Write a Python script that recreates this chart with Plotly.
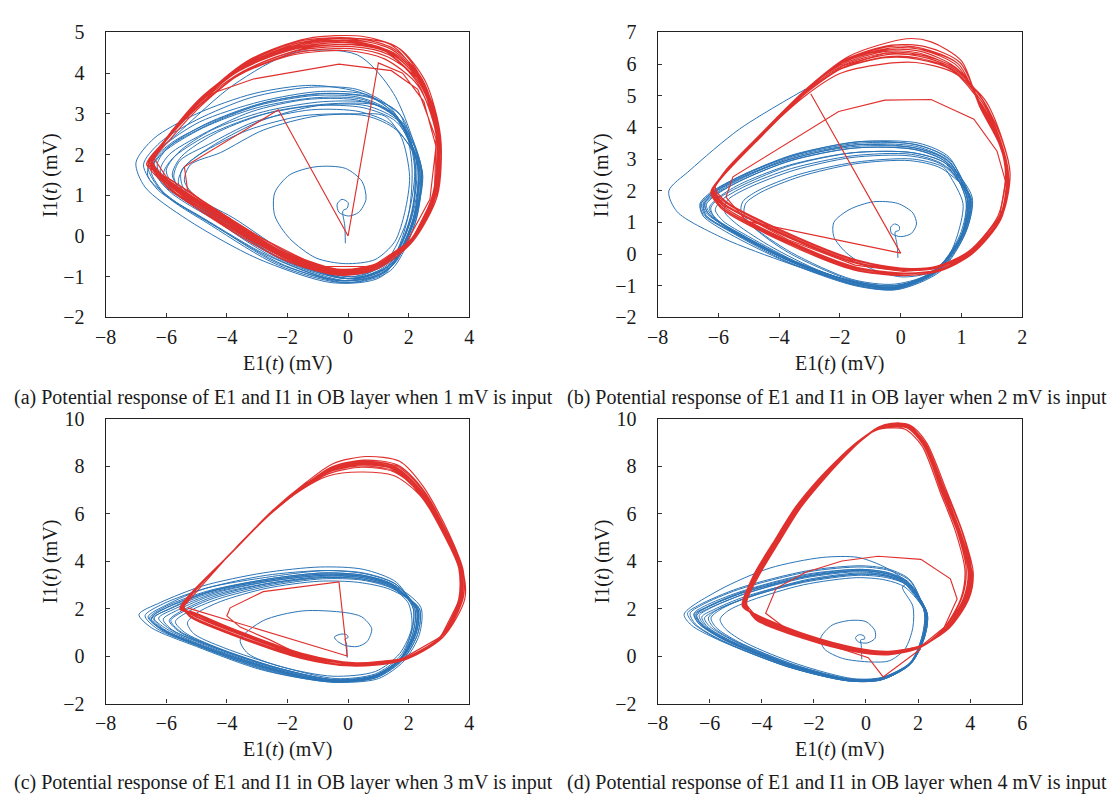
import plotly.graph_objects as go

BLUE = "#2b74b6"
RED = "#e0302d"
FONT = "Liberation Serif"

# ---------------- panel (a): 1 mV ----------------
a_blue_transient = [(-0.09,-0.18),(-0.11,0.26),(-0.17,0.62),(-0.03,0.68),(0.0,0.82),(-0.2,0.9),(-0.36,0.78),(-0.3,0.58),(0.02,0.49),(0.35,0.58),(0.59,0.9),(0.46,1.34),(-0.09,1.66),(-1.06,1.7),(-1.93,1.5),(-2.42,1.06),(-2.42,0.5),(-1.93,-0.06),(-1.06,-0.54),(-0.09,-0.68),(0.89,-0.58),(1.54,-0.14),(1.87,0.58),(2.03,1.46),(1.76,2.42)]
a_blue_loops = [
 (1.2,2.95),(0.2,3.0),(-1.5,2.95),(-3.3,2.6),(-4.9,2.0),(-5.5,1.6),(-5.45,1.2),(-4.6,0.6),(-2.6,-0.35),(-0.3,-0.95),(1.1,-0.75),(1.9,0.3),(2.2,1.6),(1.9,2.6),
 (1.3,3.1),(0.2,3.35),(-1.4,3.35),(-3.2,3.05),(-4.8,2.5),(-5.9,2.0),(-6.2,1.6),(-5.7,1.05),(-4.2,0.35),(-2.2,-0.55),(0.0,-1.05),(1.4,-0.7),(2.15,0.4),(2.3,1.7),
 (1.7,2.85),(0.7,3.45),(-0.9,3.55),(-2.9,3.3),(-4.9,2.8),(-6.1,2.2),(-6.6,1.7),(-6.1,1.05),(-4.5,0.25),(-2.3,-0.72),(-0.1,-1.15),(1.3,-0.85),(2.2,0.3),(2.4,1.65),
 (1.8,2.75),(0.8,3.25),(-0.8,3.3),(-2.8,3.05),(-4.5,2.6),(-5.6,2.05),(-6.0,1.6),(-5.6,1.1),(-4.1,0.45),(-2.0,-0.5),(0.1,-1.0),(1.4,-0.6),(2.1,0.55),(2.25,1.85),
 (1.6,2.95),(0.5,3.5),(-1.2,3.7),(-3.1,3.5),(-5.0,3.0),(-6.4,2.4),(-7.0,1.8),(-6.7,1.2),(-5.3,0.4),(-3.0,-0.55),(-0.5,-1.15),(1.1,-1.0),(2.0,0.1),(2.45,1.5),
 (1.9,2.7),(1.0,3.2),(-0.5,3.25),(-2.5,3.05),(-4.3,2.55),(-5.5,1.95),(-5.8,1.5),(-5.4,1.0),(-4.0,0.4),(-1.9,-0.6),(0.2,-1.05),(1.5,-0.7),(2.2,0.5),(2.3,1.8),
 (1.5,3.0),(0.4,3.4),(-1.1,3.45),(-3.0,3.2),(-4.7,2.7),(-6.0,2.15),(-6.45,1.7),(-5.9,1.1),(-4.3,0.35),(-2.1,-0.62),(0.0,-1.1),(1.35,-0.8),(2.15,0.35),(2.35,1.7),
 (1.5,3.5),(0.3,4.45),(-1.8,4.5),(-3.8,3.7),(-5.5,2.6),(-6.5,1.9),(-6.6,1.45),(-5.8,0.9),(-4.3,0.2),(-2.1,-0.72),(0.0,-1.15),(1.4,-0.85),(2.25,0.4),(2.4,1.75),
 (1.7,2.8),(0.6,3.2),(-1.0,3.2),(-2.8,2.85),(-4.4,2.25),(-5.4,1.7),(-5.6,1.3),(-5.0,0.8),(-3.6,0.2),(-1.6,-0.7),(0.3,-1.0),(1.5,-0.5),(2.1,0.6),(2.2,1.9),
 (1.6,2.9),(0.5,3.35),(-1.0,3.4),(-3.0,3.15),(-4.8,2.65),(-6.1,2.05),(-6.5,1.6),(-6.0,1.0),(-4.5,0.3),(-2.3,-0.68),(-0.1,-1.1),(1.3,-0.75),(2.1,0.45),(2.3,1.75),
 (1.4,3.15),(0.3,3.6),(-1.3,3.65),(-3.2,3.4),(-5.0,2.85),(-6.2,2.3),(-6.75,1.75),(-6.3,1.15),(-4.8,0.45),(-2.6,-0.5),(-0.3,-1.1),(1.2,-0.9),(2.1,0.2),(2.45,1.6),
 (1.6,2.6),(0.6,2.95),(-1.0,2.95),(-2.8,2.6),(-4.2,2.05),(-5.2,1.75),(-5.4,1.35),(-5.0,0.95),(-3.8,0.45),(-1.8,-0.5),(0.2,-0.95),(1.45,-0.55),(2.0,0.55),(2.1,1.8),
 (1.7,3.0),(0.7,3.4),(-0.9,3.5),(-2.9,3.25),(-4.7,2.75),(-5.9,2.2),(-6.3,1.75),(-5.95,1.2),(-4.4,0.5),(-2.2,-0.5),(0.0,-1.05),(1.35,-0.75),(2.2,0.4),(2.35,1.7),
 (1.5,2.7),(0.4,3.05),(-1.2,3.1),(-3.1,2.8),(-4.6,2.25),(-5.55,1.85),(-5.75,1.45),(-5.4,1.0),(-4.1,0.5),(-2.0,-0.55),(0.1,-1.05),(1.4,-0.65),(2.1,0.5),(2.2,1.8),
 (1.8,2.9),(0.8,3.4),(-0.7,3.5),(-2.6,3.3),(-4.5,2.8),(-5.8,2.3),(-6.4,1.85),(-6.15,1.3),(-4.7,0.55),(-2.4,-0.55),(-0.2,-1.1),(1.25,-0.85),(2.15,0.3),(2.4,1.65),
 (1.6,2.8),(0.5,3.15),(-1.1,3.2),(-3.0,2.95),(-4.7,2.45),(-5.8,1.9),(-6.1,1.5),(-5.7,1.05),(-4.3,0.4),(-2.1,-0.6),(0.0,-1.05),(1.4,-0.7),(2.15,0.45),(2.3,1.75),(1.6,2.9)]
a_red_transient = [(-3.2,0.05),(-4.3,0.55),(-5.3,1.14),(-5.4,1.7),(-2.3,3.1),(0.0,0.0),(1.0,4.25),(1.8,4.0),(2.5,3.3),(2.9,2.2),(2.7,0.9),(1.9,-0.2),(0.8,-0.75),(-1.0,-0.75),(-3.0,0.0),(-4.6,0.75),(-6.0,1.45),(-6.4,1.9),(-5.8,2.6),(-4.5,3.5),(-3.1,3.86),(-0.3,4.22),(1.43,4.06),(2.3,3.6),(2.9,2.4),(2.85,1.0),(2.1,-0.1),(1.0,-0.7),(-0.2,-0.88),(-2.0,-0.5),(-4.2,0.45),(-5.9,1.3)]
a_red_loops = [
 (-6.5,1.8),(-6.0,2.35),(-4.8,3.35),(-3.4,4.15),(-1.6,4.65),(0.2,4.75),(1.4,4.5),(2.35,3.8),(2.9,2.5),(2.8,1.05),(2.1,-0.05),(1.0,-0.66),(-0.2,-0.82),(-2.0,-0.45),(-4.2,0.5),(-5.9,1.35),
 (-6.5,1.85),(-5.9,2.45),(-4.7,3.45),(-3.3,4.3),(-1.5,4.8),(0.3,4.85),(1.5,4.6),(2.45,3.85),(3.0,2.5),(2.9,1.0),(2.15,-0.1),(1.05,-0.78),(-0.25,-0.95),(-2.05,-0.6),(-4.25,0.32),(-5.95,1.22),
 (-6.6,1.75),(-6.05,2.3),(-4.9,3.2),(-3.5,4.0),(-1.7,4.5),(0.1,4.6),(1.3,4.4),(2.5,3.7),(3.05,2.45),(2.95,1.1),(2.2,0.0),(1.05,-0.7),(-0.15,-0.9),(-2.0,-0.55),(-4.2,0.38),(-5.95,1.22),
 (-6.45,1.85),(-5.95,2.45),(-4.75,3.45),(-3.3,4.25),(-1.4,4.75),(0.4,4.85),(1.6,4.65),(2.4,3.9),(2.95,2.55),(2.8,0.95),(2.05,-0.15),(0.95,-0.72),(-0.2,-0.84),(-1.95,-0.42),(-4.15,0.55),(-5.85,1.38),
 (-6.65,1.75),(-6.1,2.3),(-4.95,3.25),(-3.6,4.05),(-1.8,4.6),(0.0,4.75),(1.2,4.55),(2.35,3.75),(3.0,2.4),(2.9,1.05),(2.15,-0.05),(1.05,-0.74),(-0.2,-0.93),(-2.05,-0.55),(-4.25,0.35),(-6.0,1.22),
 (-6.45,1.8),(-5.9,2.35),(-4.7,3.3),(-3.3,4.1),(-1.5,4.6),(0.3,4.7),(1.5,4.5),(2.45,3.75),(2.95,2.5),(2.85,1.0),(2.1,-0.08),(1.0,-0.7),(-0.2,-0.86),(-2.0,-0.48),(-4.2,0.48),(-5.9,1.32),
 (-6.55,1.8),(-6.0,2.4),(-4.85,3.4),(-3.4,4.2),(-1.6,4.75),(0.2,4.85),(1.4,4.7),(2.4,3.85),(3.0,2.55),(2.9,1.0),(2.1,-0.1),(1.0,-0.76),(-0.2,-0.94),(-2.0,-0.58),(-4.2,0.36),(-5.9,1.24),
 (-6.5,1.8),(-6.0,2.35),(-4.85,3.3),(-3.45,4.05),(-1.65,4.55),(0.15,4.65),(1.35,4.45),(2.3,3.75),(2.9,2.5),(2.85,1.05),(2.1,-0.05),(1.0,-0.68),(-0.2,-0.84),(-2.0,-0.46),(-4.2,0.52),(-5.9,1.34),
 (-6.55,1.82),(-5.95,2.42),(-4.75,3.42),(-3.35,4.22),(-1.55,4.72),(0.25,4.8),(1.45,4.58),(2.42,3.82),(2.97,2.48),(2.87,1.02),(2.12,-0.08),(1.02,-0.72),(-0.22,-0.9),(-2.02,-0.52),(-4.22,0.43),(-5.92,1.3),
 (-6.5,1.8),(-6.0,2.38),(-4.8,3.38),(-3.4,4.18),(-1.6,4.68),(0.2,4.78),(1.4,4.52),(2.38,3.78),(2.93,2.52),(2.83,1.0),(2.08,-0.1),(0.98,-0.68),(-0.2,-0.83),(-2.0,-0.44),(-4.2,0.54),(-5.9,1.36),
 (-6.6,1.78),(-6.1,2.3),(-5.0,3.15),(-3.6,3.95),(-1.8,4.45),(0.0,4.55),(1.2,4.35),(2.3,3.7),(2.95,2.45),(2.9,1.05),(2.2,-0.02),(1.05,-0.7),(-0.18,-0.88),(-1.98,-0.5),(-4.18,0.46),(-5.88,1.32),
 (-6.45,1.85),(-5.85,2.5),(-4.65,3.5),(-3.2,4.35),(-1.35,4.85),(0.5,4.9),(1.7,4.6),(2.55,3.8),(3.05,2.45),(2.95,1.0),(2.15,-0.12),(1.0,-0.8),(-0.22,-0.97),(-2.02,-0.62),(-4.22,0.3),(-5.92,1.2),
 (-6.55,1.8),(-6.05,2.35),(-4.9,3.3),(-3.5,4.1),(-1.7,4.6),(0.1,4.7),(1.35,4.5),(2.4,3.8),(2.98,2.5),(2.88,1.02),(2.12,-0.07),(1.02,-0.7),(-0.2,-0.88),(-2.0,-0.5),(-4.2,0.44),(-5.9,1.3),
 (-6.5,1.82),(-5.95,2.4),(-4.8,3.4),(-3.35,4.25),(-1.5,4.8),(0.3,4.82),(1.5,4.55),(2.5,3.75),(3.0,2.4),(2.88,0.98),(2.1,-0.12),(0.98,-0.75),(-0.2,-0.92),(-2.0,-0.56),(-4.2,0.38),(-5.9,1.26),(-6.5,1.82)]

# ---------------- panel (b): 2 mV ----------------
b_blue_transient = [(-0.09,-0.12),(-0.12,0.3),(-0.18,0.7),(-0.05,0.75),(-0.05,0.88),(-0.2,0.95),(-0.33,0.85),(-0.3,0.65),(0.0,0.55),(0.35,0.65),(0.52,0.95),(0.4,1.3),(-0.1,1.6),(-0.9,1.65),(-1.7,1.4),(-2.2,1.0),(-2.2,0.55),(-1.8,0.05),(-1.0,-0.45),(0.0,-0.72),(0.9,-0.6),(1.55,-0.1),(1.9,0.7),(2.05,1.6),(1.6,2.5)]
b_blue_loops = [
 (1.4,2.75),(0.4,3.0),(-1.5,2.9),(-3.4,2.5),(-4.7,2.0),(-5.2,1.65),(-5.25,1.3),(-4.9,0.9),(-3.6,0.05),(-1.6,-0.8),(-0.2,-0.95),(1.1,-0.55),(1.95,0.6),(2.15,1.7),
 (1.5,2.9),(0.5,3.3),(-1.5,3.35),(-3.6,2.95),(-5.2,2.35),(-6.1,1.85),(-6.4,1.55),(-6.2,1.2),(-5.4,0.65),(-3.6,-0.25),(-1.5,-0.95),(-0.1,-1.05),(1.2,-0.5),(2.05,0.7),(2.25,1.75),
 (1.6,3.0),(0.5,3.45),(-1.4,3.55),(-3.6,3.1),(-5.3,2.45),(-6.2,1.95),(-6.55,1.6),(-6.45,1.25),(-5.55,0.7),(-3.7,-0.2),(-1.5,-0.9),(-0.2,-1.1),(1.25,-0.5),(2.1,0.75),(2.3,1.75),
 (1.5,2.85),(0.4,3.2),(-1.6,3.2),(-3.7,2.8),(-5.3,2.2),(-6.05,1.75),(-6.3,1.45),(-6.05,1.1),(-5.2,0.6),(-3.5,-0.25),(-1.4,-0.9),(-0.1,-1.0),(1.2,-0.45),(2.05,0.7),(2.2,1.7),
 (1.55,2.95),(0.5,3.35),(-1.45,3.45),(-3.6,3.05),(-5.25,2.4),(-6.2,1.9),(-6.5,1.6),(-6.4,1.3),(-5.5,0.72),(-3.65,-0.18),(-1.5,-0.9),(-0.2,-1.05),(1.22,-0.47),(2.08,0.73),(2.25,1.74),
 (1.4,2.8),(0.3,3.1),(-1.6,3.05),(-3.5,2.65),(-5.0,2.1),(-5.7,1.7),(-5.8,1.35),(-5.4,0.95),(-4.2,0.2),(-2.2,-0.7),(-0.3,-1.0),(1.1,-0.6),(2.0,0.6),(2.2,1.7),
 (1.6,3.05),(0.6,3.5),(-1.3,3.55),(-3.5,3.15),(-5.2,2.5),(-6.25,1.95),(-6.6,1.6),(-6.5,1.25),(-5.6,0.7),(-3.7,-0.25),(-1.4,-1.0),(-0.1,-1.12),(1.3,-0.55),(2.15,0.7),(2.35,1.8),
 (1.5,2.9),(0.45,3.3),(-1.5,3.35),(-3.65,2.95),(-5.3,2.3),(-6.15,1.85),(-6.45,1.55),(-6.3,1.25),(-5.45,0.7),(-3.6,-0.2),(-1.45,-0.92),(-0.15,-1.05),(1.25,-0.5),(2.1,0.7),(2.3,1.75),
 (1.55,2.95),(0.5,3.4),(-1.45,3.45),(-3.6,3.0),(-5.3,2.4),(-6.2,1.9),(-6.45,1.6),(-6.35,1.3),(-5.6,0.75),(-3.8,-0.15),(-1.6,-0.95),(-0.2,-1.1),(1.2,-0.55),(2.1,0.65),(2.3,1.7),
 (1.45,2.8),(0.35,3.15),(-1.6,3.1),(-3.6,2.7),(-5.1,2.15),(-5.9,1.7),(-6.1,1.4),(-5.85,1.05),(-5.0,0.55),(-3.3,-0.3),(-1.3,-0.95),(-0.1,-1.02),(1.2,-0.48),(2.05,0.7),(2.2,1.72),
 (1.55,3.0),(0.55,3.45),(-1.4,3.5),(-3.55,3.1),(-5.25,2.45),(-6.25,1.9),(-6.6,1.55),(-6.5,1.2),(-5.65,0.65),(-3.75,-0.25),(-1.5,-1.0),(-0.15,-1.12),(1.28,-0.52),(2.15,0.72),(2.32,1.78),
 (1.35,2.7),(0.3,2.95),(-1.5,2.85),(-3.3,2.45),(-4.6,1.95),(-5.1,1.6),(-5.15,1.25),(-4.85,0.85),(-3.7,0.05),(-1.7,-0.8),(-0.25,-1.0),(1.15,-0.55),(2.0,0.62),(2.15,1.7),
 (1.5,2.95),(0.45,3.35),(-1.5,3.4),(-3.65,3.0),(-5.3,2.35),(-6.2,1.85),(-6.5,1.55),(-6.4,1.22),(-5.5,0.68),(-3.65,-0.22),(-1.45,-0.95),(-0.15,-1.08),(1.25,-0.5),(2.1,0.72),(2.28,1.75),
 (1.5,2.85),(0.4,3.2),(-1.55,3.2),(-3.6,2.8),(-5.15,2.2),(-6.0,1.75),(-6.25,1.45),(-6.1,1.12),(-5.25,0.62),(-3.5,-0.22),(-1.4,-0.92),(-0.1,-1.05),(1.2,-0.48),(2.05,0.7),(2.22,1.72),(1.5,2.85)]
b_blue_outer = [(-1.5,-0.98),(-3.67,-0.3),(-5.84,0.5),(-7.36,1.34),(-7.63,1.99),(-6.93,2.65),(-5.3,3.95),(-3.13,5.21)]
b_red_transient = [(-2.96,5.06),(0.0,0.03),(-5.08,1.04),(-5.75,1.8),(-5.52,2.44),(-2.04,4.5),(-0.52,4.86),(1.0,4.88),(2.41,4.26),(3.17,3.25),(3.45,2.3),(3.25,1.15),(2.3,0.05),(1.2,-0.45),(0.1,-0.55),(-1.5,-0.35),(-3.7,0.45),(-5.85,1.55),(-6.2,2.0),(-5.85,2.5),(-4.7,3.65),(-3.1,5.15),(-1.9,5.95),(-0.5,6.35),(0.6,6.3)]
b_red_loops = [
 (1.8,5.9),(0.6,6.35),(-0.5,6.4),(-1.9,6.0),(-3.1,5.2),(-4.7,3.7),(-5.85,2.5),(-6.2,2.0),(-5.85,1.6),(-3.7,0.55),(-1.5,-0.28),(0.1,-0.5),(1.2,-0.42),(2.3,0.05),(3.25,1.15),(3.5,2.45),(3.3,3.5),(2.65,4.75),
 (1.7,5.8),(0.6,6.15),(-0.5,6.2),(-1.95,5.85),(-3.15,5.05),(-4.75,3.6),(-5.9,2.45),(-6.25,1.95),(-5.85,1.45),(-3.7,0.35),(-1.5,-0.48),(0.1,-0.66),(1.25,-0.55),(2.35,0.0),(3.3,1.1),(3.55,2.4),(3.3,3.45),(2.6,4.7),
 (1.9,6.0),(0.7,6.5),(-0.4,6.55),(-1.85,6.1),(-3.05,5.25),(-4.65,3.75),(-5.8,2.55),(-6.15,2.05),(-5.8,1.65),(-3.65,0.6),(-1.45,-0.22),(0.1,-0.46),(1.2,-0.38),(2.25,0.1),(3.2,1.2),(3.45,2.5),(3.25,3.55),(2.7,4.85),
 (1.75,5.85),(0.6,6.25),(-0.45,6.3),(-1.9,5.9),(-3.1,5.1),(-4.7,3.6),(-5.85,2.45),(-6.2,1.98),(-5.82,1.5),(-3.68,0.42),(-1.5,-0.4),(0.1,-0.6),(1.22,-0.5),(2.3,0.02),(3.28,1.12),(3.52,2.42),(3.28,3.48),(2.62,4.72),
 (1.95,6.05),(0.8,6.55),(-0.3,6.6),(-1.8,6.15),(-3.0,5.3),(-4.6,3.8),(-5.8,2.6),(-6.1,2.1),(-5.75,1.66),(-3.6,0.62),(-1.4,-0.2),(0.15,-0.45),(1.25,-0.38),(2.35,0.1),(3.35,1.25),(3.6,2.55),(3.35,3.6),(2.75,4.9),
 (1.7,5.75),(0.5,6.05),(-0.6,6.0),(-2.0,5.7),(-3.2,4.95),(-4.8,3.55),(-5.95,2.4),(-6.25,1.95),(-5.9,1.44),(-3.72,0.32),(-1.55,-0.5),(0.05,-0.68),(1.2,-0.55),(2.3,0.0),(3.25,1.1),(3.5,2.4),(3.25,3.45),(2.6,4.65),
 (2.0,6.1),(1.0,6.7),(0.2,6.8),(-1.7,6.25),(-2.95,5.35),(-4.6,3.8),(-5.8,2.55),(-6.2,2.0),(-5.8,1.56),(-3.65,0.5),(-1.45,-0.3),(0.1,-0.52),(1.2,-0.44),(2.3,0.05),(3.3,1.2),(3.55,2.5),(3.3,3.55),(2.7,4.85),
 (1.8,5.9),(0.65,6.4),(-0.45,6.45),(-1.9,6.05),(-3.1,5.2),(-4.7,3.7),(-5.85,2.5),(-6.2,2.0),(-5.9,1.5),(-3.7,0.4),(-1.5,-0.42),(0.1,-0.6),(1.2,-0.5),(2.3,0.04),(3.26,1.15),(3.5,2.44),(3.28,3.5),(2.64,4.74),
 (1.85,5.95),(0.7,6.45),(-0.4,6.5),(-1.85,6.08),(-3.05,5.22),(-4.66,3.72),(-5.82,2.52),(-6.18,2.02),(-5.82,1.6),(-3.66,0.56),(-1.46,-0.26),(0.1,-0.48),(1.22,-0.4),(2.3,0.06),(3.28,1.18),(3.53,2.47),(3.3,3.52),(2.68,4.8),
 (1.72,5.82),(0.55,6.2),(-0.55,6.22),(-1.95,5.85),(-3.15,5.05),(-4.75,3.62),(-5.9,2.45),(-6.22,1.97),(-5.86,1.47),(-3.7,0.38),(-1.52,-0.44),(0.08,-0.62),(1.2,-0.52),(2.3,0.02),(3.25,1.12),(3.48,2.42),(3.25,3.47),(2.6,4.7),
 (1.9,6.0),(0.75,6.45),(-0.35,6.5),(-1.85,6.1),(-3.05,5.25),(-4.65,3.75),(-5.8,2.55),(-6.15,2.05),(-5.8,1.58),(-3.65,0.52),(-1.45,-0.3),(0.12,-0.5),(1.22,-0.42),(2.28,0.08),(3.25,1.2),(3.6,2.5),(3.35,3.55),(2.72,4.85),
 (1.78,5.88),(0.62,6.3),(-0.48,6.35),(-1.92,5.95),(-3.1,5.15),(-4.72,3.65),(-5.86,2.48),(-6.2,2.0),(-5.85,1.55)]

# ---------------- panel (c): 3 mV ----------------
c_blue_transient = [(-0.03,-0.07),(-0.05,0.5),(-0.1,0.72),(0.0,0.78),(-0.05,0.9),(-0.25,0.92),(-0.45,0.8),(-0.35,0.62),(-0.1,0.45),(0.3,0.4),(0.62,0.6),(0.78,1.15),(0.45,1.65),(-0.09,1.83),(-1.5,1.9),(-2.8,1.49),(-3.56,0.68),(-3.3,0.1),(-2.2,-0.45),(-0.5,-0.85),(0.9,-0.65),(1.7,0.1),(2.1,1.2),(2.0,2.2),(1.5,2.9)]
c_blue_loops = [
 (1.5,2.95),(0.5,3.35),(-0.8,3.45),(-2.6,3.2),(-4.6,2.7),(-5.8,2.05),(-6.4,1.6),(-6.0,1.15),(-4.8,0.45),(-2.6,-0.5),(-0.5,-1.05),(0.9,-0.85),(1.75,-0.1),(2.2,1.0),(2.25,2.0),
 (1.4,2.9),(0.4,3.25),(-0.9,3.3),(-2.7,3.05),(-4.5,2.55),(-5.6,1.95),(-6.1,1.55),(-5.8,1.1),(-4.6,0.45),(-2.5,-0.45),(-0.45,-1.0),(0.95,-0.8),(1.8,-0.05),(2.15,1.0),(2.2,2.0),
 (1.6,3.0),(0.6,3.45),(-0.7,3.6),(-2.5,3.35),(-4.7,2.85),(-6.0,2.15),(-6.6,1.65),(-6.2,1.15),(-4.9,0.4),(-2.7,-0.6),(-0.5,-1.1),(0.95,-0.9),(1.8,-0.15),(2.3,0.95),(2.35,2.0),
 (1.45,2.85),(0.45,3.2),(-0.85,3.25),(-2.6,2.95),(-4.3,2.4),(-5.3,1.85),(-5.7,1.45),(-5.4,1.0),(-4.3,0.35),(-2.3,-0.5),(-0.4,-1.0),(0.9,-0.8),(1.75,-0.05),(2.1,1.05),(2.15,2.0),
 (1.6,3.1),(0.5,3.65),(-0.9,3.75),(-2.8,3.5),(-4.8,2.95),(-6.2,2.25),(-6.9,1.75),(-6.5,1.2),(-5.0,0.4),(-2.8,-0.6),(-0.5,-1.1),(1.0,-0.95),(1.85,-0.2),(2.35,0.9),(2.4,2.05),
 (1.5,3.0),(0.5,3.4),(-0.8,3.5),(-2.6,3.25),(-4.5,2.75),(-5.9,2.1),(-6.45,1.65),(-6.1,1.15),(-4.85,0.45),(-2.65,-0.5),(-0.5,-1.05),(0.9,-0.85),(1.75,-0.1),(2.2,1.0),(2.25,2.0),
 (1.55,2.95),(0.55,3.35),(-0.75,3.4),(-2.55,3.15),(-4.4,2.65),(-5.7,2.0),(-6.25,1.6),(-5.9,1.15),(-4.7,0.45),(-2.55,-0.5),(-0.5,-1.05),(0.9,-0.85),(1.75,-0.1),(2.25,1.0),(2.3,2.0),
 (1.5,2.9),(0.5,3.3),(-0.8,3.4),(-2.6,3.15),(-4.55,2.65),(-5.85,2.0),(-6.5,1.55),(-6.1,1.1),(-4.85,0.4),(-2.6,-0.55),(-0.5,-1.08),(0.92,-0.88),(1.78,-0.12),(2.25,0.98),(2.3,2.0),
 (1.45,2.95),(0.45,3.3),(-0.85,3.35),(-2.65,3.05),(-4.45,2.5),(-5.5,1.9),(-5.9,1.5),(-5.6,1.05),(-4.5,0.4),(-2.45,-0.5),(-0.45,-1.02),(0.9,-0.82),(1.75,-0.08),(2.2,1.0),(2.25,2.0),
 (1.55,3.05),(0.5,3.5),(-0.8,3.6),(-2.7,3.4),(-4.7,2.85),(-6.1,2.2),(-6.7,1.7),(-6.3,1.15),(-5.0,0.45),(-2.75,-0.55),(-0.5,-1.08),(0.95,-0.9),(1.82,-0.15),(2.3,0.95),(2.35,2.0),
 (1.4,2.8),(0.35,3.1),(-0.95,3.15),(-2.7,2.85),(-4.2,2.3),(-5.0,1.8),(-5.3,1.4),(-5.1,0.95),(-4.1,0.35),(-2.2,-0.45),(-0.4,-0.95),(0.9,-0.75),(1.72,0.0),(2.1,1.05),(2.15,2.0),
 (1.5,3.0),(0.5,3.4),(-0.8,3.5),(-2.6,3.25),(-4.6,2.75),(-6.0,2.1),(-6.55,1.6),(-6.15,1.1),(-4.9,0.42),(-2.65,-0.55),(-0.5,-1.08),(0.92,-0.88),(1.78,-0.12),(2.25,0.98),(2.3,2.0),
 (1.45,2.9),(0.45,3.25),(-0.85,3.3),(-2.65,3.0),(-4.4,2.45),(-5.4,1.9),(-5.85,1.5),(-5.55,1.05),(-4.45,0.4),(-2.4,-0.48),(-0.45,-1.0),(0.9,-0.8),(1.75,-0.05),(2.15,1.02),(2.2,2.0),
 (1.5,2.95),(0.5,3.35),(-0.8,3.45),(-2.6,3.2),(-4.55,2.7),(-5.95,2.05),(-6.5,1.6),(-6.1,1.12),(-4.85,0.44),(-2.6,-0.52),(-0.5,-1.06),(0.9,-0.86),(1.76,-0.1),(2.22,0.99),(2.27,2.0),(1.5,2.95)]
c_red_transient = [(-5.3,2.03),(-0.03,0.0),(-0.3,3.12),(-2.8,2.71),(-3.89,2.03),(-4.0,1.69),(-3.56,1.22),(-2.58,0.68),(-1.5,0.0),(0.13,-0.34),(1.76,-0.14),(3.06,0.81),(3.71,2.44),(3.71,3.66),(3.28,5.02),(2.41,6.92),(1.54,7.93),(0.46,8.14),(-0.6,7.85),(-1.5,7.1),(-2.6,5.95),(-3.67,4.61)]
c_red_loops = [
 (-5.45,2.05),(-3.6,4.7),(-2.55,6.02),(-1.47,7.12),(-0.6,7.82),(0.45,8.1),(1.55,7.9),(2.4,6.9),(3.25,5.0),(3.7,3.65),(3.7,2.45),(3.05,0.8),(1.75,-0.15),(0.15,-0.35),(-1.5,0.05),(-3.65,1.02),(-5.15,1.82),
 (-5.55,1.98),(-3.75,4.48),(-2.68,5.85),(-1.58,7.0),(-0.68,7.72),(0.4,8.0),(1.5,7.8),(2.35,6.85),(3.2,5.0),(3.65,3.7),(3.65,2.4),(3.0,0.75),(1.7,-0.22),(0.1,-0.42),(-1.55,-0.1),(-3.75,0.85),(-5.25,1.68),
 (-5.4,2.1),(-3.55,4.72),(-2.5,6.08),(-1.42,7.22),(-0.55,7.95),(0.5,8.2),(1.6,8.0),(2.45,7.0),(3.3,5.05),(3.75,3.6),(3.75,2.5),(3.1,0.85),(1.8,-0.1),(0.15,-0.28),(-1.42,0.08),(-3.6,1.05),(-5.12,1.85),
 (-5.5,2.0),(-3.72,4.52),(-2.65,5.9),(-1.56,6.98),(-0.66,7.58),(0.4,7.75),(1.5,7.6),(2.35,6.8),(3.25,4.95),(3.7,3.7),(3.72,2.4),(3.05,0.78),(1.75,-0.17),(0.12,-0.38),(-1.55,-0.06),(-3.72,0.88),(-5.22,1.7),
 (-5.43,2.08),(-3.6,4.68),(-2.52,6.1),(-1.4,7.3),(-0.5,8.1),(0.6,8.4),(1.7,8.2),(2.5,7.1),(3.35,5.1),(3.8,3.6),(3.8,2.5),(3.1,0.85),(1.8,-0.12),(0.15,-0.3),(-1.45,0.04),(-3.62,1.0),(-5.15,1.8),
 (-5.52,1.98),(-3.7,4.55),(-2.62,5.93),(-1.52,7.06),(-0.62,7.82),(0.46,8.14),(1.54,7.93),(2.41,6.92),(3.28,5.02),(3.71,3.66),(3.71,2.44),(3.06,0.81),(1.76,-0.18),(0.13,-0.4),(-1.52,-0.04),(-3.7,0.9),(-5.22,1.72),
 (-5.44,2.06),(-3.62,4.66),(-2.56,6.02),(-1.46,7.15),(-0.58,7.86),(0.5,8.05),(1.58,7.85),(2.45,6.85),(3.3,4.98),(3.78,3.62),(3.85,2.4),(3.12,0.78),(1.78,-0.2),(0.14,-0.4),(-1.5,-0.03),(-3.66,0.96),(-5.18,1.78),
 (-5.48,2.01),(-3.69,4.57),(-2.63,5.92),(-1.54,7.02),(-0.64,7.68),(0.45,7.95),(1.52,7.75),(2.38,6.88),(3.26,5.0),(3.68,3.68),(3.68,2.46),(3.04,0.82),(1.75,-0.13),(0.13,-0.33),(-1.48,0.03),(-3.64,0.98),(-5.17,1.79),
 (-5.42,2.09),(-3.58,4.7),(-2.52,6.06),(-1.43,7.2),(-0.55,7.96),(0.52,8.25),(1.62,8.05),(2.47,7.02),(3.32,5.06),(3.78,3.62),(3.8,2.45),(3.12,0.8),(1.78,-0.16),(0.14,-0.36),(-1.46,0.06),(-3.62,1.03),(-5.14,1.83),
 (-5.53,1.99),(-3.73,4.5),(-2.66,5.88),(-1.57,7.0),(-0.66,7.76),(0.43,8.05),(1.52,7.85),(2.38,6.86),(3.24,4.98),(3.68,3.67),(3.7,2.42),(3.03,0.78),(1.74,-0.2),(0.12,-0.4),(-1.54,-0.08),(-3.73,0.87),(-5.24,1.7),
 (-5.45,2.04),(-3.65,4.61),(-2.58,5.98),(-1.5,7.1),(-0.6,7.88),(0.48,8.18),(1.56,7.97),(2.43,6.95),(3.3,5.04),(3.74,3.64),(3.76,2.47),(3.08,0.82),(1.77,-0.13),(0.14,-0.34),(-1.5,0.0),(-3.67,0.95),(-5.19,1.76),(-5.45,2.04)]

# ---------------- panel (d): 4 mV ----------------
d_blue_transient = [(-0.16,-0.14),(-0.18,0.45),(-0.2,0.68),(-0.05,0.72),(-0.08,0.85),(-0.25,0.9),(-0.4,0.78),(-0.3,0.6),(0.05,0.55),(0.35,0.75),(0.34,1.08),(0.0,1.45),(-0.6,1.5),(-1.3,1.3),(-1.74,0.75),(-1.6,0.3),(-0.9,-0.1),(0.2,-0.25),(0.9,-0.2),(1.5,0.3),(1.8,1.2),(1.8,2.1),(1.4,2.9)]
d_blue_loops = [
 (1.6,3.1),(0.85,3.45),(-0.2,3.6),(-2.3,3.35),(-4.8,2.65),(-6.1,2.05),(-6.5,1.75),(-6.3,1.35),(-5.4,0.7),(-2.9,-0.4),(-0.6,-1.0),(0.6,-0.95),(1.7,-0.3),(2.2,0.8),(2.3,1.8),
 (1.55,3.0),(0.8,3.3),(-0.3,3.4),(-2.4,3.1),(-4.6,2.45),(-5.8,1.9),(-6.2,1.6),(-6.0,1.25),(-5.1,0.65),(-2.8,-0.4),(-0.6,-0.98),(0.6,-0.92),(1.7,-0.28),(2.15,0.8),(2.25,1.8),
 (1.7,3.15),(0.9,3.6),(-0.15,3.75),(-2.2,3.55),(-4.9,2.8),(-6.3,2.15),(-6.75,1.8),(-6.55,1.35),(-5.6,0.7),(-3.0,-0.45),(-0.65,-1.05),(0.6,-1.0),(1.72,-0.32),(2.25,0.8),(2.35,1.8),
 (1.6,3.05),(0.8,3.4),(-0.25,3.5),(-2.35,3.2),(-4.5,2.5),(-5.6,1.95),(-5.95,1.6),(-5.75,1.2),(-4.9,0.6),(-2.7,-0.38),(-0.55,-0.98),(0.6,-0.92),(1.7,-0.3),(2.2,0.8),(2.3,1.8),
 (1.8,2.9),(0.8,3.7),(-0.29,4.15),(-1.68,4.15),(-3.7,3.7),(-5.6,2.8),(-6.98,1.76),(-6.7,1.3),(-5.7,0.7),(-3.0,-0.45),(-0.65,-1.05),(0.6,-1.0),(1.72,-0.33),(2.25,0.8),(2.35,1.8),
 (1.6,3.1),(0.85,3.5),(-0.2,3.65),(-2.3,3.4),(-4.75,2.7),(-6.15,2.05),(-6.6,1.75),(-6.4,1.35),(-5.45,0.68),(-2.95,-0.42),(-0.62,-1.02),(0.6,-0.97),(1.7,-0.32),(2.2,0.8),(2.3,1.8),
 (1.55,3.05),(0.8,3.4),(-0.25,3.55),(-2.3,3.3),(-4.7,2.6),(-6.0,2.0),(-6.4,1.7),(-6.2,1.3),(-5.3,0.68),(-2.85,-0.4),(-0.6,-1.0),(0.6,-0.95),(1.7,-0.3),(2.2,0.8),(2.3,1.8),
 (1.65,3.1),(0.9,3.5),(-0.2,3.65),(-2.25,3.45),(-4.85,2.7),(-6.2,2.1),(-6.6,1.8),(-6.45,1.4),(-5.5,0.72),(-2.95,-0.42),(-0.62,-1.02),(0.6,-0.97),(1.7,-0.3),(2.2,0.8),(2.3,1.8),
 (1.6,3.0),(0.85,3.35),(-0.25,3.45),(-2.4,3.15),(-4.65,2.5),(-5.85,1.95),(-6.3,1.65),(-6.1,1.25),(-5.2,0.65),(-2.8,-0.4),(-0.6,-1.0),(0.6,-0.95),(1.7,-0.3),(2.2,0.8),(2.3,1.8),
 (1.6,3.05),(0.85,3.45),(-0.2,3.6),(-2.3,3.35),(-4.7,2.6),(-6.05,2.0),(-6.5,1.7),(-6.3,1.3),(-5.35,0.68),(-2.9,-0.41),(-0.6,-1.01),(0.6,-0.96),(1.7,-0.31),(2.2,0.8),(2.3,1.8),
 (1.5,2.9),(0.75,3.2),(-0.35,3.3),(-2.4,3.0),(-4.4,2.35),(-5.3,1.9),(-5.6,1.55),(-5.4,1.15),(-4.6,0.55),(-2.6,-0.35),(-0.5,-0.95),(0.6,-0.9),(1.7,-0.27),(2.15,0.8),(2.25,1.8),
 (1.7,3.2),(0.9,3.65),(-0.15,3.8),(-2.2,3.6),(-4.9,2.85),(-6.4,2.15),(-6.85,1.8),(-6.6,1.35),(-5.65,0.7),(-3.0,-0.45),(-0.65,-1.05),(0.6,-1.0),(1.72,-0.33),(2.25,0.8),(2.35,1.8),
 (1.6,3.1),(0.85,3.45),(-0.2,3.6),(-2.3,3.35),(-4.75,2.65),(-6.1,2.05),(-6.55,1.75),(-6.35,1.35),(-5.42,0.69),(-2.92,-0.41),(-0.61,-1.01),(0.6,-0.96),(1.7,-0.31),(2.2,0.8),(2.3,1.8),
 (1.55,3.0),(0.8,3.35),(-0.3,3.45),(-2.35,3.15),(-4.55,2.45),(-5.7,1.95),(-6.05,1.6),(-5.85,1.2),(-5.0,0.62),(-2.75,-0.38),(-0.58,-0.98),(0.6,-0.93),(1.7,-0.29),(2.18,0.8),(2.28,1.8),(1.55,3.0)]
d_red_transient = [(2.1,0.3),(0.66,-0.88),(0.09,-0.07),(-1.5,0.5),(-3.0,1.1),(-3.85,1.8),(-3.45,2.85),(-2.31,3.53),(-0.92,4.0),(0.47,4.2),(2.11,4.07),(3.24,3.25),(3.5,2.4),(3.0,1.2),(2.1,0.4),(0.85,0.14),(-0.42,0.27),(-2.31,0.81),(-4.2,1.63)]
d_red_loops = [
 (-4.65,2.17),(-4.16,3.4),(-3.41,4.77),(-2.55,6.27),(-1.73,7.37),(-1.01,8.22),(-0.26,9.02),(0.47,9.62),(0.97,9.76),(1.6,9.69),(2.23,8.95),(2.99,6.92),(3.62,5.15),(4.0,3.53),(3.81,2.44),(3.12,1.22),(2.11,0.41),(0.85,0.18),(-0.42,0.32),(-2.31,0.88),(-4.18,1.7),
 (-4.75,2.1),(-4.3,3.4),(-3.55,4.77),(-2.69,6.27),(-1.87,7.37),(-1.15,8.2),(-0.4,8.95),(0.38,9.5),(0.9,9.6),(1.5,9.55),(2.15,8.85),(2.85,6.9),(3.45,5.2),(3.8,3.6),(3.65,2.45),(3.0,1.2),(2.05,0.35),(0.85,0.05),(-0.45,0.18),(-2.35,0.72),(-4.25,1.55),
 (-4.58,2.22),(-4.1,3.4),(-3.35,4.77),(-2.49,6.27),(-1.67,7.37),(-0.95,8.24),(-0.2,9.05),(0.55,9.65),(1.05,9.8),(1.7,9.72),(2.32,9.0),(3.1,6.95),(3.75,5.1),(4.12,3.5),(3.95,2.4),(3.2,1.18),(2.15,0.45),(0.88,0.2),(-0.4,0.35),(-2.28,0.9),(-4.15,1.72),
 (-4.7,2.13),(-4.25,3.4),(-3.5,4.77),(-2.64,6.27),(-1.82,7.37),(-1.1,8.21),(-0.35,8.98),(0.42,9.58),(0.92,9.7),(1.55,9.65),(2.2,8.9),(2.92,6.85),(3.55,5.1),(3.92,3.55),(3.75,2.45),(3.08,1.25),(2.08,0.38),(0.84,0.08),(-0.43,0.22),(-2.33,0.76),(-4.23,1.58),
 (-4.6,2.21),(-4.13,3.4),(-3.38,4.77),(-2.52,6.27),(-1.7,7.37),(-0.98,8.23),(-0.23,9.04),(0.5,9.62),(1.0,9.78),(1.65,9.7),(2.28,8.98),(3.05,6.95),(3.7,5.2),(4.05,3.55),(3.88,2.45),(3.15,1.2),(2.12,0.44),(0.86,0.17),(-0.41,0.3),(-2.29,0.86),(-4.17,1.68),
 (-4.72,2.12),(-4.32,3.4),(-3.57,4.77),(-2.71,6.27),(-1.89,7.37),(-1.17,8.19),(-0.42,8.94),(0.4,9.52),(0.95,9.65),(1.58,9.6),(2.2,8.88),(2.9,6.95),(3.5,5.25),(3.85,3.65),(3.7,2.5),(3.05,1.22),(2.1,0.36),(0.85,0.06),(-0.42,0.2),(-2.32,0.74),(-4.23,1.57),
 (-4.62,2.2),(-4.18,3.4),(-3.43,4.77),(-2.57,6.27),(-1.75,7.37),(-1.03,8.22),(-0.28,9.02),(0.48,9.64),(0.98,9.8),(1.62,9.74),(2.26,8.98),(3.02,6.88),(3.66,5.08),(4.08,3.45),(3.9,2.38),(3.18,1.18),(2.14,0.42),(0.87,0.16),(-0.41,0.3),(-2.3,0.85),(-4.18,1.69),
 (-4.68,2.15),(-4.27,3.4),(-3.52,4.77),(-2.66,6.27),(-1.84,7.37),(-1.12,8.21),(-0.37,8.98),(0.43,9.58),(0.96,9.72),(1.6,9.66),(2.22,8.92),(2.96,6.9),(3.58,5.15),(3.96,3.55),(3.78,2.42),(3.1,1.2),(2.1,0.38),(0.85,0.1),(-0.42,0.24),(-2.31,0.78),(-4.21,1.6),
 (-4.64,2.18),(-4.2,3.4),(-3.45,4.77),(-2.59,6.27),(-1.77,7.37),(-1.05,8.22),(-0.3,9.0),(0.45,9.6),(0.96,9.7),(1.6,9.64),(2.22,8.9),(2.95,6.9),(3.6,5.12),(3.98,3.5),(3.8,2.42),(3.12,1.2),(2.11,0.41),(0.85,0.13),(-0.42,0.27),(-2.31,0.82),(-4.2,1.64),
 (-4.7,2.14),(-4.29,3.4),(-3.54,4.77),(-2.68,6.27),(-1.86,7.37),(-1.14,8.2),(-0.39,8.97),(0.42,9.57),(0.97,9.74),(1.61,9.68),(2.24,8.94),(3.0,6.9),(3.64,5.12),(4.02,3.5),(3.84,2.42),(3.13,1.21),(2.11,0.37),(0.85,0.09),(-0.42,0.23),(-2.32,0.77),(-4.22,1.59),
 (-4.61,2.2),(-4.11,3.4),(-3.36,4.77),(-2.5,6.27),(-1.68,7.37),(-0.96,8.24),(-0.21,9.04),(0.5,9.63),(0.98,9.75),(1.62,9.7),(2.25,8.96),(3.02,6.92),(3.66,5.14),(4.05,3.52),(3.86,2.44),(3.14,1.22),(2.12,0.43),(0.86,0.17),(-0.42,0.31),(-2.3,0.86),(-4.17,1.67),(-4.61,2.2)]

# axis setup per panel
x_ranges = [[-8, 4], [-8, 4], [-8, 4], [-8, 6]]
y_ranges = [[-2, 5], [-2, 7], [-2, 10], [-2, 10]]
x_tickvals = [[-8, -6, -4, -2, 0, 2, 4], [-8, -6, -4, -2, 0, 2, 4], [-8, -6, -4, -2, 0, 2, 4], [-8, -6, -4, -2, 0, 2, 4, 6]]
x_ticktext = [["−8", "−6", "−4", "−2", "0", "2", "4"], ["−8", "−6", "−4", "−2", "0", "1", "2"],
              ["−8", "−6", "−4", "−2", "0", "2", "4"], ["−8", "−6", "−4", "−2", "0", "2", "4", "6"]]
y_dticks = [1, 1, 2, 2]
captions = ["(a) Potential response of E1 and I1 in OB layer when 1 mV is input",
            "(b) Potential response of E1 and I1 in OB layer when 2 mV is input",
            "(c) Potential response of E1 and I1 in OB layer when 3 mV is input",
            "(d) Potential response of E1 and I1 in OB layer when 4 mV is input"]

W, H = 1113, 805
boxes = [(96, 465, 22, 315), (656, 1026, 22, 315), (96, 465, 419, 712), (656, 1026, 419, 712)]

panel_traces = [
    [(a_blue_transient + a_blue_loops, BLUE, True), (a_red_transient, RED, False), (a_red_loops, RED, True)],
    [(b_blue_transient + b_blue_loops, BLUE, True), (b_blue_outer, BLUE, True), (b_red_transient, RED, False), (b_red_loops, RED, True)],
    [(c_blue_transient + c_blue_loops, BLUE, True), (c_red_transient, RED, False), (c_red_loops, RED, True)],
    [(d_blue_transient + d_blue_loops, BLUE, True), (d_red_transient, RED, False), (d_red_loops, RED, True)],
]

fig = go.Figure()
layout = dict(width=W, height=H, margin=dict(l=0, r=0, t=0, b=0),
              paper_bgcolor="white", plot_bgcolor="white", showlegend=False,
              font=dict(family=FONT, size=20, color="#1a1a1a"))
annotations = []
for i in range(4):
    xa = "x" if i == 0 else f"x{i+1}"
    ya = "y" if i == 0 else f"y{i+1}"
    for pts, col, smooth in panel_traces[i]:
        line = dict(color=col, width=1.15 if col == RED else 1.0)
        if smooth:
            line.update(shape="spline", smoothing=0.8)
        fig.add_trace(go.Scatter(x=[p[0] for p in pts], y=[p[1] for p in pts],
                                 mode="lines", line=line, hoverinfo="skip",
                                 xaxis=xa, yaxis=ya))
    l, r, t, b = boxes[i]
    xkey = "xaxis" if i == 0 else f"xaxis{i+1}"
    ykey = "yaxis" if i == 0 else f"yaxis{i+1}"
    layout[xkey] = dict(domain=[l / W, r / W], range=x_ranges[i], anchor=ya,
                        tickmode="array", tickvals=x_tickvals[i], ticktext=x_ticktext[i],
                        ticks="inside", ticklen=4, tickwidth=1, tickcolor="#333",
                        showline=True, linecolor="#222", linewidth=1.3, mirror=True,
                        showgrid=False, zeroline=False, ticklabelstandoff=1,
                        tickfont=dict(family=FONT, size=20, color="#1a1a1a"))
    layout[ykey] = dict(domain=[1 - b / H, 1 - t / H], range=y_ranges[i], anchor=xa,
                        dtick=y_dticks[i], tick0=0,
                        ticks="inside", ticklen=4, tickwidth=1, tickcolor="#333",
                        showline=True, linecolor="#222", linewidth=1.3, mirror=True,
                        showgrid=False, zeroline=False, ticklabelstandoff=16,
                        tickfont=dict(family=FONT, size=20, color="#1a1a1a"))
    cx = (l + r) / 2
    annotations.append(dict(text="E1(<i>t</i>) (mV)", x=cx / W, y=1 - (b + 47) / H,
                            xref="paper", yref="paper", showarrow=False,
                            xanchor="center", yanchor="middle",
                            font=dict(family=FONT, size=20, color="#1a1a1a")))
    annotations.append(dict(text="I1(<i>t</i>) (mV)", x=(l - 56) / W, y=1 - ((t + b) / 2) / H,
                            xref="paper", yref="paper", showarrow=False, textangle=-90,
                            xanchor="center", yanchor="middle",
                            font=dict(family=FONT, size=20, color="#1a1a1a")))
    capx = 276 if i % 2 == 0 else 838
    capy = 397 if i < 2 else 793
    annotations.append(dict(text=captions[i], x=capx / W, y=1 - capy / H,
                            xref="paper", yref="paper", showarrow=False,
                            xanchor="center", yanchor="middle",
                            font=dict(family=FONT, size=20, color="#1a1a1a")))
layout["annotations"] = annotations
fig.update_layout(**layout)
fig.write_html("out.html")
